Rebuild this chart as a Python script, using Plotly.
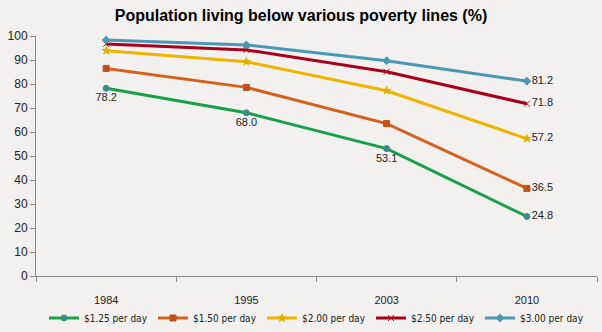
import plotly.graph_objects as go

years = ["1984", "1995", "2003", "2010"]
series_names = ["$1.25 per day", "$1.50 per day", "$2.00 per day", "$2.50 per day", "$3.00 per day"]
v125 = [78.2, 68.0, 53.1, 24.8]
v150 = [86.5, 78.6, 63.5, 36.5]
v200 = [93.9, 89.3, 77.2, 57.2]
v250 = [96.7, 94.2, 85.1, 71.8]
v300 = [98.3, 96.3, 89.7, 81.2]
values = [v125, v150, v200, v250, v300]

colors = ["#18A049", "#D5621C", "#F0B400", "#A8001C", "#4B98B4"]
marker_colors = ["#3A8A8A", "#C0501A", "#E0B000", "#B01020", "#4B98B4"]
symbols = ["circle", "square", "star", "x-thin", "diamond"]

fig = go.Figure()
for i, (name, vals) in enumerate(zip(series_names, values)):
    if i == 0:
        texts = [f"{v:.1f}" for v in vals]
        pos = ["bottom center", "bottom center", "bottom center", "middle right"]
    else:
        texts = ["", "", "", f"{vals[-1]:.1f}"]
        pos = ["middle right"] * 4
    fig.add_trace(go.Scatter(
        x=years, y=vals, name=name,
        mode="lines+markers+text",
        text=texts, textposition=pos,
        textfont=dict(family="Liberation Sans, Arial", size=11, color="#222"),
        line=dict(color=colors[i], width=3),
        marker=dict(symbol=symbols[i], size=6, color=marker_colors[i],
                    line=dict(color=marker_colors[i], width=1)),
        cliponaxis=False,
    ))

fig.update_layout(
    width=602, height=332,
    paper_bgcolor="#F2F1EF", plot_bgcolor="#F2F1EF",
    margin=dict(l=36, r=5, t=36, b=56, autoexpand=False),
    title=dict(text="<b>Population living below various poverty lines (%)</b>",
               x=0.5, xanchor="center", y=0.953, yanchor="middle",
               font=dict(family="Liberation Sans, Arial", size=16, color="#000")),
    font=dict(family="Liberation Sans, Arial", size=11, color="#222"),
    xaxis=dict(type="category", range=[-0.5, 3.5], showgrid=False,
               showline=True, linecolor="#888", linewidth=1,
               ticks="outside", tickson="boundaries", ticklen=5, tickcolor="#888",
               ticklabelstandoff=14,
               tickfont=dict(size=11), fixedrange=True),
    yaxis=dict(range=[0, 100], dtick=10, showgrid=False, zeroline=False,
               showline=True, linecolor="#888", linewidth=1,
               ticks="outside", ticklen=5, tickcolor="#888",
               tickfont=dict(size=12)),
    legend=dict(orientation="h", x=0.5, xanchor="center", y=-0.175, yanchor="middle",
                font=dict(family="DejaVu Sans Condensed, DejaVu Sans", size=10),
                entrywidth=64, entrywidthmode="pixels",
                itemwidth=30, tracegroupgap=0, bgcolor="rgba(0,0,0,0)"),
    showlegend=True,
)

fig.write_html("out.html")
